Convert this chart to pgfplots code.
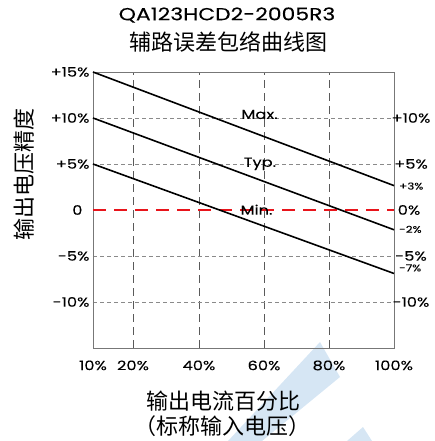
\documentclass[border=0pt]{standalone}
\usepackage{pgfplots}
\pgfplotsset{compat=1.18}
\usepackage{fontspec}
\setmainfont{Poppins}[FakeStretch=1.25, FakeBold=0.08]
\newfontfamily\cjk{Noto Sans CJK SC}
\definecolor{wm}{HTML}{D6E6F4}
\definecolor{gridgray}{HTML}{8A8A8A}
\definecolor{vgrid}{HTML}{5A5A5A}
\definecolor{framec}{HTML}{777777}
\definecolor{zred}{HTML}{E8141B}
\begin{document}
\begin{tikzpicture}
\useasboundingbox (-93pt,-93pt) rectangle (342pt,348pt);
\fill[wm] (135pt,-93pt) -- (227pt,6pt) -- (247pt,-29pt) -- (169pt,-93pt) -- cycle;
\fill[wm] (254pt,-93pt) -- (270pt,-79pt) -- (279pt,-93pt) -- cycle;
\begin{axis}[
  scale only axis, width=301pt, height=276pt,
  xmin=10, xmax=100, ymin=-15, ymax=15,
  axis line style={framec, line width=0.8pt},
  clip=false,
  major tick length=0pt,
  tick label style={font=\fontsize{13pt}{15pt}\selectfont},
  xtick={21.96,41.69,61.13,80.56},
  xticklabels={20\%,40\%,60\%,80\%},
  extra x ticks={10,100},
  extra x tick labels={10\%,100\%},
  extra x tick style={grid=none},
  xticklabel style={yshift=-9pt},
  ytick={-10,-5,5,10},
  yticklabels={-10\%,-5\%,+5\%,+10\%},
  extra y ticks={0,15},
  extra y tick labels={0\kern7pt,+15\%},
  extra y tick style={grid=none},
  xmajorgrids, ymajorgrids,
  every axis x grid/.append style={vgrid, line width=0.7pt, dash pattern=on 8pt off 5pt},
  every axis y grid/.append style={gridgray, line width=0.7pt, dash pattern=on 4pt off 3pt},
]
\addplot[zred, line width=2pt, dash pattern=on 13pt off 8pt] coordinates {(10,0) (100,0)};
\addplot[black, line width=1.6pt] coordinates {(10,15) (100,2.65)};
\addplot[black, line width=1.6pt] coordinates {(10,10) (100,-2.15)};
\addplot[black, line width=1.6pt] coordinates {(10,5) (100,-6.9)};
\node[anchor=base, font=\fontsize{13pt}{15pt}\selectfont] at (axis cs:59.8,9.9) {Max.};
\node[anchor=base, font=\fontsize{13pt}{15pt}\selectfont] at (axis cs:59.9,4.7) {Typ.};
\node[anchor=base, font=\fontsize{13pt}{15pt}\selectfont] at (axis cs:58.9,-0.5) {Min.};
\node[font=\fontsize{13pt}{15pt}\selectfont] at ([xshift=17pt]axis cs:100,10) {+10\%};
\node[font=\fontsize{13pt}{15pt}\selectfont] at ([xshift=17pt]axis cs:100,5) {+5\%};
\node[font=\fontsize{13pt}{15pt}\selectfont] at ([xshift=15pt]axis cs:100,0) {0\%};
\node[font=\fontsize{13pt}{15pt}\selectfont] at ([xshift=17pt]axis cs:100,-5) {-5\%};
\node[font=\fontsize{13pt}{15pt}\selectfont] at ([xshift=17pt]axis cs:100,-10) {-10\%};
\node[anchor=west, inner sep=0pt, font=\fontsize{9.5pt}{11pt}\selectfont] at ([xshift=5pt]axis cs:100,2.6) {+3\%};
\node[anchor=west, inner sep=0pt, font=\fontsize{9.5pt}{11pt}\selectfont] at ([xshift=5pt]axis cs:100,-2.1) {-2\%};
\node[anchor=west, inner sep=0pt, font=\fontsize{9.5pt}{11pt}\selectfont] at ([xshift=5pt]axis cs:100,-6.3) {-7\%};
\end{axis}
\node[font=\fontsize{17.5pt}{20pt}\selectfont] at (134pt,333pt) {QA123HCD2-2005R3};
\node[font={\cjk\fontsize{22pt}{24pt}\selectfont}] at (135pt,306pt) {辅路误差包络曲线图};
\node[font={\cjk\fontsize{22pt}{24pt}\selectfont}] at (130pt,-53pt) {输出电流百分比};
\node[font={\cjk\fontsize{22pt}{24pt}\selectfont}] at (129pt,-78pt) {（标称输入电压）};
\node[rotate=90, font={\cjk\fontsize{22pt}{24pt}\selectfont}] at (-69pt,173pt) {输出电压精度};
\end{tikzpicture}
\end{document}
